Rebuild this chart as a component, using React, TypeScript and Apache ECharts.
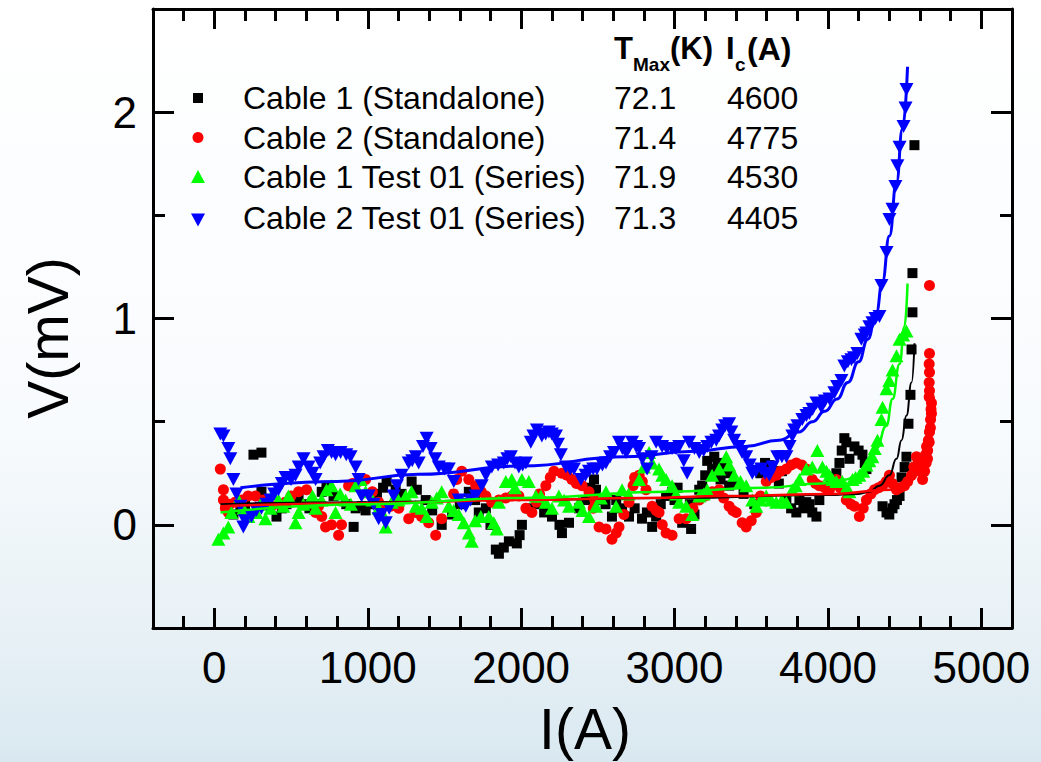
import React, { useEffect, useRef } from "react";
import * as echarts from "echarts";

// Measured V–I points, [current (A), voltage (mV)]
const cable1Standalone: [number, number][] = [
  [78, 0.09], [124, 0.05], [170, 0.07], [200, 0.1], [255, 0.34], [307, 0.35], [307, 0.16], [350, 0.1], [405, 0.04],
  [440, 0.08], [470, 0.1], [549, 0.13], [580, 0.1], [620, 0.08], [670, 0.1], [700, 0.16], [731, 0.18], [777, 0.14],
  [860, 0.1], [908, -0.01], [921, 0.08], [960, 0.09], [986, 0.07], [1040, 0.1], [1060, 0.15], [1100, 0.18],
  [1123, 0.21], [1182, 0.17], [1220, 0.15], [1286, 0.21], [1320, 0.17], [1378, 0.12], [1420, 0.07], [1482, 0.0],
  [1550, 0.05], [1600, 0.1], [1659, 0.16], [1700, 0.12], [1724, 0.06], [1770, 0.08], [1800, 0.0], [1835, -0.12],
  [1855, -0.14], [1887, -0.11], [1920, -0.08], [1972, -0.09], [1990, -0.05], [2005, 0.0], [2050, 0.08], [2100, 0.1],
  [2150, 0.06], [2201, 0.04], [2250, 0.0], [2266, -0.04], [2312, 0.01], [2377, 0.08], [2420, 0.12], [2450, 0.18],
  [2475, 0.22], [2488, 0.17], [2527, 0.12], [2550, 0.1], [2592, 0.04], [2620, 0.12], [2658, 0.08], [2703, 0.04],
  [2740, 0.08], [2788, 0.03], [2820, 0.06], [2854, -0.01], [2880, 0.04], [2910, 0.1], [2945, 0.14], [2984, 0.16],
  [3000, 0.12], [3020, 0.18], [3050, 0.01], [3100, 0.1], [3108, -0.02], [3130, 0.05], [3161, 0.17], [3180, 0.19],
  [3200, 0.24], [3213, 0.31], [3245, 0.27], [3259, 0.33], [3280, 0.3], [3300, 0.22], [3320, 0.28], [3356, 0.25],
  [3356, 0.19], [3390, 0.2], [3450, 0.15], [3520, 0.1], [3560, 0.25], [3590, 0.3], [3618, 0.29], [3650, 0.26],
  [3680, 0.2], [3700, 0.26], [3729, 0.12], [3760, 0.08], [3794, 0.06], [3814, 0.12], [3840, 0.08], [3859, 0.11],
  [3880, 0.1], [3898, 0.06], [3925, 0.04], [3944, 0.12], [4020, 0.2], [4055, 0.25], [4075, 0.3], [4090, 0.36],
  [4107, 0.42], [4120, 0.4], [4140, 0.32], [4173, 0.38], [4200, 0.36], [4225, 0.34], [4240, 0.3], [4251, 0.27],
  [4356, 0.09], [4382, 0.06], [4400, 0.05], [4421, 0.08], [4434, 0.1], [4450, 0.12], [4467, 0.14], [4480, 0.23],
  [4500, 0.28], [4512, 0.33], [4525, 0.49], [4538, 0.63], [4545, 0.85], [4551, 1.03], [4551, 1.22], [4564, 1.84],
];

const cable2Standalone: [number, number][] = [
  [39, 0.27], [59, 0.17], [59, 0.12], [72, 0.08], [91, 0.06], [100, 0.1], [137, 0.11], [180, 0.12], [220, 0.14],
  [268, 0.14], [320, 0.12], [372, 0.09], [420, 0.1], [464, 0.11], [500, 0.14], [549, 0.16], [601, 0.17], [660, 0.06],
  [679, 0.09], [700, 0.04], [725, -0.01], [764, 0.0], [810, -0.05], [829, 0.0], [875, 0.19], [900, 0.2], [940, 0.21],
  [986, 0.22], [1030, 0.16], [1071, 0.11], [1091, 0.09], [1150, 0.09], [1202, 0.08], [1267, 0.03], [1313, 0.06],
  [1350, 0.04], [1397, 0.01], [1443, -0.05], [1482, 0.03], [1560, 0.15], [1580, 0.22], [1613, 0.26], [1659, 0.22],
  [1704, 0.19], [1740, 0.16], [1770, 0.14], [1809, 0.11], [1855, 0.12], [1900, 0.13], [1940, 0.14], [1985, 0.14],
  [2031, 0.08], [2070, 0.06], [2100, 0.11], [2120, 0.15], [2161, 0.19], [2190, 0.23], [2214, 0.26], [2266, 0.25],
  [2300, 0.24], [2331, 0.22], [2360, 0.2], [2397, 0.19], [2442, 0.16], [2470, 0.08], [2480, 0.12], [2508, -0.01],
  [2553, -0.02], [2592, -0.07], [2620, -0.04], [2638, -0.01], [2670, 0.05], [2703, 0.11], [2730, 0.19],
  [2740, 0.23], [2769, 0.24], [2790, 0.21], [2814, 0.17], [2854, 0.09], [2880, 0.07], [2899, 0.06], [2920, 0.0],
  [2945, -0.04], [2984, -0.05], [3030, 0.03], [3076, 0.03], [3120, 0.08], [3161, 0.12], [3200, 0.14], [3245, 0.16],
  [3291, 0.17], [3320, 0.13], [3356, 0.09], [3380, 0.07], [3402, 0.06], [3441, 0.01], [3467, -0.01], [3500, 0.02],
  [3533, 0.06], [3560, 0.14], [3598, 0.21], [3630, 0.23], [3663, 0.24], [3690, 0.26], [3729, 0.27], [3760, 0.29],
  [3794, 0.3], [3830, 0.29], [3859, 0.27], [3898, 0.22], [3920, 0.2], [3944, 0.19], [3980, 0.18], [4010, 0.17],
  [4055, 0.22], [4080, 0.18], [4120, 0.12], [4150, 0.1], [4173, 0.09], [4205, 0.04], [4230, 0.08], [4251, 0.12],
  [4280, 0.15], [4303, 0.17], [4330, 0.18], [4356, 0.19], [4380, 0.21], [4401, 0.24], [4420, 0.2], [4447, 0.17],
  [4470, 0.18], [4499, 0.19], [4520, 0.21], [4545, 0.24], [4560, 0.28], [4577, 0.33], [4590, 0.31], [4600, 0.26],
  [4610, 0.29], [4617, 0.22], [4620, 0.27], [4630, 0.26], [4636, 0.34], [4640, 0.3], [4643, 0.38], [4649, 0.32],
  [4650, 0.36], [4655, 0.41], [4660, 0.4], [4662, 0.45], [4668, 0.47], [4669, 0.51], [4672, 0.56], [4675, 0.54],
  [4675, 0.59], [4660, 0.62], [4662, 0.65], [4660, 0.69], [4662, 0.74], [4660, 0.78], [4662, 0.83], [4662, 1.16],
];

const cable1Series: [number, number][] = [
  [26, -0.07], [59, -0.04], [91, -0.01], [111, 0.06], [157, 0.12], [189, 0.08], [222, 0.04], [274, 0.06],
  [300, 0.1], [333, 0.03], [366, 0.08], [380, 0.15], [418, 0.12], [450, 0.09], [483, 0.14], [529, 0.01],
  [549, 0.06], [580, 0.1], [614, 0.11], [640, 0.14], [660, 0.08], [699, 0.12], [731, 0.17], [764, 0.19],
  [790, 0.06], [820, 0.15], [855, 0.12], [890, 0.1], [921, 0.19], [953, 0.22], [986, 0.16], [1030, 0.12],
  [1071, 0.08], [1100, 0.05], [1117, -0.01], [1156, 0.11], [1200, 0.12], [1247, 0.14], [1286, 0.16], [1313, 0.09],
  [1352, 0.08], [1384, 0.04], [1417, 0.11], [1450, 0.13], [1482, 0.16], [1528, 0.09], [1560, 0.07], [1593, 0.05],
  [1626, 0.01], [1659, -0.04], [1678, -0.08], [1700, 0.02], [1737, 0.04], [1789, 0.04], [1822, 0.01], [1841, -0.02],
  [1855, 0.11], [1900, 0.21], [1939, 0.22], [1960, 0.18], [2005, 0.22], [2050, 0.21], [2096, 0.14], [2129, 0.14],
  [2160, 0.11], [2201, 0.08], [2246, 0.14], [2280, 0.12], [2312, 0.09], [2377, 0.11], [2400, 0.07], [2442, 0.04],
  [2488, 0.09], [2520, 0.13], [2553, 0.16], [2619, 0.09], [2658, 0.17], [2700, 0.15], [2769, 0.22], [2800, 0.28],
  [2834, 0.35], [2854, 0.3], [2899, 0.27], [2920, 0.24], [2945, 0.22], [2984, 0.19], [3010, 0.15], [3030, 0.11],
  [3076, 0.09], [3115, 0.05], [3161, 0.14], [3190, 0.15], [3213, 0.17], [3245, 0.24], [3291, 0.27], [3337, 0.33],
  [3356, 0.29], [3389, 0.24], [3430, 0.21], [3467, 0.19], [3507, 0.12], [3533, 0.09], [3560, 0.12], [3598, 0.14],
  [3630, 0.12], [3663, 0.11], [3700, 0.12], [3729, 0.11], [3768, 0.17], [3790, 0.19], [3814, 0.22], [3859, 0.27],
  [3898, 0.28], [3931, 0.36], [3964, 0.28], [3990, 0.26], [4010, 0.24], [4030, 0.22], [4055, 0.21], [4094, 0.21],
  [4120, 0.18], [4140, 0.16], [4160, 0.22], [4180, 0.23], [4205, 0.24], [4230, 0.26], [4251, 0.29], [4270, 0.31],
  [4290, 0.33], [4305, 0.37], [4323, 0.41], [4349, 0.51], [4356, 0.57], [4382, 0.66], [4400, 0.7], [4421, 0.75],
  [4447, 0.82], [4467, 0.9], [4490, 0.92], [4512, 0.94],
];

const cable2Series: [number, number][] = [
  [39, 0.44], [59, 0.43], [91, 0.37], [104, 0.32], [124, 0.22], [144, 0.15], [170, 0.09], [189, -0.01], [200, 0.02],
  [242, 0.04], [274, 0.07], [307, 0.08], [340, 0.1], [366, 0.12], [390, 0.15], [418, 0.17], [440, 0.2], [464, 0.23],
  [500, 0.22], [529, 0.24], [550, 0.28], [581, 0.32], [614, 0.28], [640, 0.25], [660, 0.22], [690, 0.3], [712, 0.33],
  [740, 0.36], [764, 0.35], [790, 0.34], [823, 0.35], [860, 0.34], [888, 0.33], [921, 0.28], [940, 0.22],
  [960, 0.14], [1006, 0.14], [1038, 0.1], [1071, 0.03], [1090, 0.05], [1117, 0.01], [1140, 0.08], [1169, 0.14],
  [1190, 0.19], [1221, 0.24], [1267, 0.3], [1290, 0.31], [1313, 0.33], [1332, 0.3], [1360, 0.38], [1384, 0.42],
  [1410, 0.37], [1440, 0.32], [1463, 0.28], [1500, 0.27], [1528, 0.27], [1561, 0.21], [1593, 0.12], [1610, 0.1],
  [1639, 0.09], [1670, 0.12], [1704, 0.14], [1743, 0.19], [1770, 0.24], [1809, 0.28], [1850, 0.29], [1887, 0.3],
  [1910, 0.32], [1933, 0.33], [1960, 0.3], [1985, 0.28], [2010, 0.29], [2031, 0.3], [2063, 0.4], [2080, 0.43],
  [2103, 0.46], [2135, 0.43], [2160, 0.44], [2181, 0.45], [2200, 0.44], [2227, 0.43], [2240, 0.39], [2259, 0.34],
  [2292, 0.28], [2320, 0.27], [2344, 0.27], [2390, 0.22], [2420, 0.24], [2442, 0.26], [2470, 0.27], [2494, 0.27],
  [2530, 0.29], [2553, 0.3], [2580, 0.33], [2605, 0.35], [2638, 0.4], [2660, 0.37], [2684, 0.35], [2700, 0.37],
  [2723, 0.4], [2750, 0.38], [2769, 0.37], [2790, 0.32], [2821, 0.27], [2850, 0.33], [2880, 0.4], [2919, 0.38],
  [2950, 0.37], [2984, 0.37], [3010, 0.37], [3030, 0.38], [3060, 0.31], [3082, 0.25], [3095, 0.4], [3130, 0.37],
  [3161, 0.35], [3190, 0.36], [3213, 0.38], [3240, 0.4], [3272, 0.41], [3290, 0.43], [3311, 0.46], [3330, 0.48],
  [3356, 0.49], [3370, 0.45], [3389, 0.41], [3422, 0.38], [3440, 0.35], [3467, 0.33], [3490, 0.29], [3507, 0.25],
  [3530, 0.26], [3565, 0.27], [3590, 0.25], [3618, 0.24], [3640, 0.28], [3670, 0.33], [3700, 0.33], [3729, 0.33],
  [3750, 0.38], [3768, 0.43], [3780, 0.46], [3801, 0.48], [3833, 0.51], [3860, 0.53], [3879, 0.54], [3900, 0.56],
  [3925, 0.59], [3957, 0.57], [3980, 0.6], [4010, 0.61], [4042, 0.64], [4060, 0.67], [4088, 0.7], [4107, 0.77],
  [4130, 0.79], [4153, 0.8], [4170, 0.81], [4192, 0.83], [4218, 0.9], [4240, 0.92], [4251, 0.93], [4270, 0.96],
  [4290, 0.98], [4310, 1.0], [4336, 1.01], [4349, 1.16], [4382, 1.32], [4401, 1.48], [4421, 1.53], [4440, 1.64],
  [4453, 1.74], [4467, 1.83], [4493, 1.93], [4506, 2.02], [4512, 2.11],
];

// Fitted V–I curves
const fitCable1Standalone: [number, number][] = [
  [40, 0.1], [1000, 0.11], [2000, 0.12], [3000, 0.13], [4000, 0.145], [4200, 0.15], [4270, 0.16], [4336, 0.19],
  [4401, 0.24], [4447, 0.32], [4480, 0.41], [4512, 0.53], [4545, 0.69], [4564, 0.88],
];
const fitCable2Standalone: [number, number][] = [
  [40, 0.09], [1000, 0.105], [2000, 0.12], [2800, 0.13], [3330, 0.14], [4040, 0.15], [4400, 0.17], [4550, 0.22],
  [4620, 0.32], [4660, 0.45], [4690, 0.62],
];
const fitCable1Series: [number, number][] = [
  [40, 0.06], [1000, 0.1], [2000, 0.13], [2940, 0.16], [3590, 0.18], [3960, 0.2], [4120, 0.22], [4186, 0.24],
  [4251, 0.29], [4316, 0.37], [4381, 0.48], [4421, 0.61], [4467, 0.78], [4499, 0.96], [4519, 1.17],
];
const fitCable2Series: [number, number][] = [
  [170, 0.18], [800, 0.21], [1330, 0.245], [2000, 0.285], [2680, 0.33], [3100, 0.355], [3460, 0.38], [3680, 0.41],
  [3810, 0.45], [3900, 0.5], [3980, 0.55], [4060, 0.61], [4130, 0.69], [4200, 0.79], [4260, 0.9], [4316, 1.03],
  [4355, 1.18], [4401, 1.4], [4447, 1.66], [4486, 1.92], [4519, 2.22],
];

// Legend table
const seriesNames = [
  "Cable 1 (Standalone)",
  "Cable 2 (Standalone)",
  "Cable 1 Test 01 (Series)",
  "Cable 2 Test 01 (Series)",
];
const tMaxK = ["72.1", "71.4", "71.9", "71.3"];
const icA = ["4600", "4775", "4530", "4405"];
const seriesColors = ["#000000", "#ff0000", "#00ff00", "#0000ff"];

// Axis ticks
const xMajor = [0, 1000, 2000, 3000, 4000, 5000];
const xMinor = [
  -200, 200, 400, 600, 800, 1200, 1400, 1600, 1800, 2200, 2400, 2600, 2800, 3200, 3400, 3600, 3800, 4200, 4400,
  4600, 4800,
];
const yMajor = [0, 1, 2];
const yMinor = [0.5, 1.5];

const FONT = "'Liberation Sans', Arial, Helvetica, sans-serif";

function xAxisDef(position: "bottom" | "top", ticks: number[], major: boolean, labels: boolean, line: boolean) {
  return {
    type: "value",
    position,
    min: -400,
    max: 5200,
    axisLine: { show: line, onZero: false, lineStyle: { color: "#000", width: 3 } },
    axisTick: {
      show: true,
      inside: true,
      length: major ? 20 : 12,
      customValues: ticks,
      lineStyle: { color: "#000", width: 3 },
    },
    axisLabel: {
      show: labels,
      customValues: ticks,
      margin: 17,
      fontSize: 44,
      color: "#000",
      fontFamily: FONT,
      formatter: (v: number) => String(v),
    },
    splitLine: { show: false },
  };
}

function yAxisDef(position: "left" | "right", ticks: number[], major: boolean, labels: boolean, line: boolean) {
  return {
    type: "value",
    position,
    min: -0.5,
    max: 2.5,
    axisLine: { show: line, onZero: false, lineStyle: { color: "#000", width: 3 } },
    axisTick: {
      show: true,
      inside: true,
      length: major ? 21 : 12,
      customValues: ticks,
      lineStyle: { color: "#000", width: 3 },
    },
    axisLabel: {
      show: labels,
      customValues: ticks,
      margin: 16,
      fontSize: 44,
      color: "#000",
      fontFamily: FONT,
      formatter: (v: number) => String(v),
    },
    splitLine: { show: false },
  };
}

function overlayGraphics() {
  const rowY = [98, 137.5, 177, 217.5];
  const mx = 198;
  const els: any[] = [];
  // legend markers
  els.push({ type: "rect", shape: { x: mx - 5, y: rowY[0] - 5, width: 10, height: 10 }, style: { fill: seriesColors[0] } });
  els.push({ type: "circle", shape: { cx: mx, cy: rowY[1], r: 5.5 }, style: { fill: seriesColors[1] } });
  els.push({
    type: "polygon",
    shape: { points: [[mx - 7, rowY[2] + 6], [mx + 7, rowY[2] + 6], [mx, rowY[2] - 7]] },
    style: { fill: seriesColors[2] },
  });
  els.push({
    type: "polygon",
    shape: { points: [[mx - 7, rowY[3] - 4], [mx + 7, rowY[3] - 4], [mx, rowY[3] + 9]] },
    style: { fill: seriesColors[3] },
  });
  const txt = (x: number, y: number, text: string, size: number, bold = false, align = "left") => ({
    type: "text",
    x,
    y,
    style: {
      text,
      fill: "#000",
      fontSize: size,
      fontFamily: FONT,
      fontWeight: bold ? "bold" : "normal",
      align,
      verticalAlign: "middle",
    },
  });
  seriesNames.forEach((n, i) => {
    els.push(txt(243, rowY[i], n, 32));
    els.push(txt(614, rowY[i], tMaxK[i], 32));
    els.push(txt(727, rowY[i], icA[i], 32));
  });
  // column headers with subscripts
  els.push(txt(614, 48.5, "T", 31, true));
  els.push(txt(633, 64, "Max", 19, true));
  els.push(txt(670, 48.5, "(K)", 31, true));
  els.push(txt(726, 48.5, "I", 31, true));
  els.push(txt(735, 64, "c", 19, true));
  els.push(txt(747, 48.5, "(A)", 32, true));
  // axis titles
  els.push(txt(585, 729, "I(A)", 57, false, "center"));
  els.push({
    type: "text",
    x: 48,
    y: 338,
    rotation: Math.PI / 2,
    style: {
      text: "V(mV)",
      fill: "#000",
      fontSize: 57,
      fontFamily: FONT,
      align: "center",
      verticalAlign: "middle",
    },
  });
  return els;
}

export default function App() {
  const ref = useRef<HTMLDivElement>(null);

  useEffect(() => {
    if (!ref.current) return;
    const chart = echarts.init(ref.current, undefined, { renderer: "svg" });

    const scatter = (name: string, data: [number, number][], symbol: string, size: any, color: string, rotate = 0) => ({
      name,
      type: "scatter",
      data,
      symbol,
      symbolSize: size,
      symbolRotate: rotate,
      itemStyle: { color, opacity: 1 },
      silent: true,
      xAxisIndex: 0,
      yAxisIndex: 0,
    });
    const fit = (data: [number, number][], color: string, width: number) => ({
      type: "line",
      data,
      showSymbol: false,
      symbol: "none",
      smooth: true,
      smoothMonotone: "x",
      lineStyle: { color, width },
      silent: true,
      xAxisIndex: 0,
      yAxisIndex: 0,
    });

    chart.setOption({
      animation: false,
      grid: { left: 153, right: 29, top: 9, bottom: 134, containLabel: false },
      xAxis: [
        xAxisDef("bottom", xMajor, true, true, true),
        xAxisDef("bottom", xMinor, false, false, false),
        xAxisDef("top", xMajor, true, false, true),
        xAxisDef("top", xMinor, false, false, false),
      ],
      yAxis: [
        yAxisDef("left", yMajor, true, true, true),
        yAxisDef("left", yMinor, false, false, false),
        yAxisDef("right", yMajor, true, false, true),
        yAxisDef("right", yMinor, false, false, false),
      ],
      series: [
        scatter(seriesNames[0], cable1Standalone, "rect", 10, seriesColors[0]),
        scatter(seriesNames[1], cable2Standalone, "circle", 11, seriesColors[1]),
        scatter(seriesNames[2], cable1Series, "triangle", [14, 13], seriesColors[2]),
        scatter(seriesNames[3], cable2Series, "triangle", [14, 13], seriesColors[3], 180),
        fit(fitCable1Standalone, seriesColors[0], 2),
        fit(fitCable2Standalone, seriesColors[1], 2.5),
        fit(fitCable1Series, seriesColors[2], 2.5),
        fit(fitCable2Series, seriesColors[3], 3),
      ],
      graphic: overlayGraphics(),
    });

    return () => chart.dispose();
  }, []);

  return (
    <div
      style={{
        position: "absolute",
        left: 0,
        top: 0,
        width: 1041,
        height: 762,
        background: "linear-gradient(to bottom, #ffffff 0%, #f8fbfd 55%, #e6f0f5 85%, #d9e8f0 100%)",
      }}
    >
      <div ref={ref} style={{ width: 1041, height: 762 }} />
    </div>
  );
}
